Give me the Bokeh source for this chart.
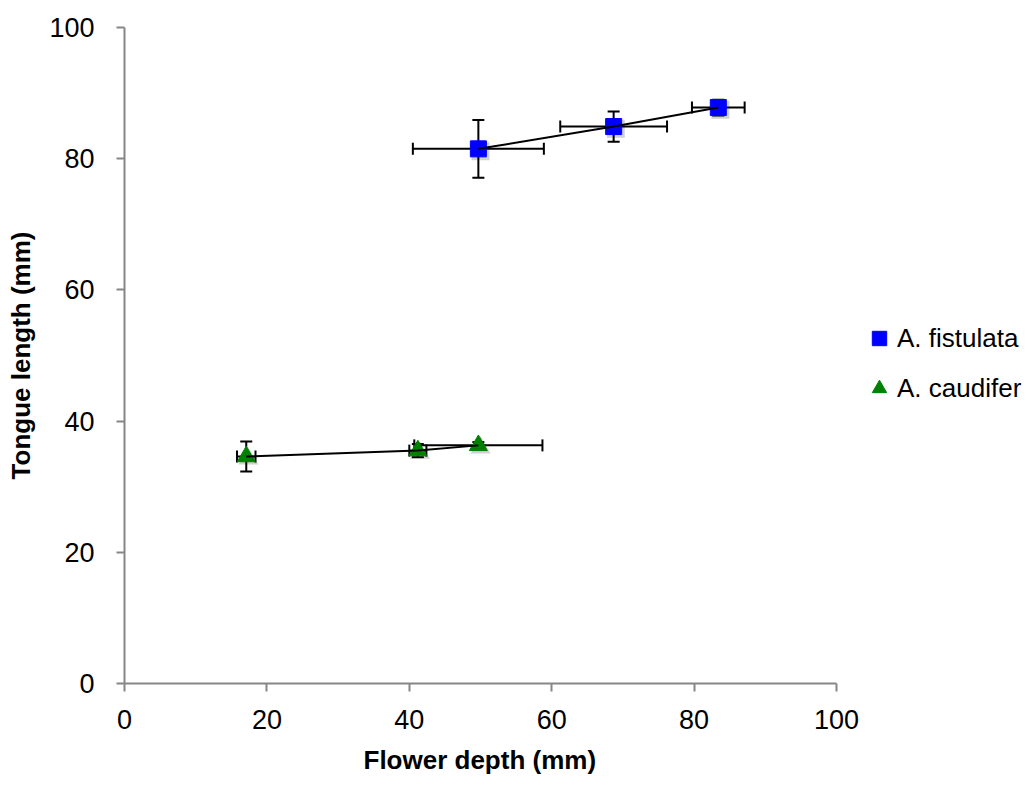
from bokeh.plotting import figure
from bokeh.models import ColumnDataSource, Whisker, TeeHead, Legend, LegendItem, FixedTicker, Range1d, Title
from bokeh.embed import file_html
from bokeh.resources import INLINE

# Data
species = ["A. fistulata", "A. caudifer"]
fist_x = [49.7, 68.7, 83.4]
fist_y = [81.5, 84.9, 87.8]
fist_xerr = [9.2, 7.5, 3.7]
fist_yerr = [4.4, 2.3, 1.2]
caud_x = [17.1, 41.2, 49.7]
caud_y = [34.6, 35.5, 36.3]
caud_xerr = [1.3, 1.2, 9.0]
caud_yerr = [2.3, 1.0, 0.5]
x_ticks = [0, 20, 40, 60, 80, 100]
y_ticks = [0, 20, 40, 60, 80, 100]

FONT = "Liberation Sans"
AXIS_GREY = "#868686"

W, H = 1026, 785
LEFT, TOP, BOTTOM = 124, 27, 102
AXIS_PX = 712  # pixel length of 0..100 on the x axis
frame_w = W - LEFT
x_end = 100.0 * frame_w / AXIS_PX

p = figure(width=W, height=H, output_backend="svg", toolbar_location=None,
           x_range=Range1d(0, x_end), y_range=Range1d(0, 100),
           min_border_left=LEFT, min_border_right=0, min_border_top=TOP, min_border_bottom=BOTTOM)
p.outline_line_color = None
p.xgrid.grid_line_color = None
p.ygrid.grid_line_color = None
p.background_fill_color = "white"
p.border_fill_color = "white"

for ax in (p.xaxis[0], p.yaxis[0]):
    ax.axis_line_color = AXIS_GREY
    ax.axis_line_width = 2
    ax.major_tick_line_color = AXIS_GREY
    ax.major_tick_line_width = 2
    ax.major_tick_out = 8
    ax.major_tick_in = 0
    ax.minor_tick_line_color = None
    ax.major_label_text_font = FONT
    ax.major_label_text_font_size = "27px"
    ax.major_label_text_color = "black"
    ax.axis_label_text_font = FONT
    ax.axis_label_text_font_size = "26px"
    ax.axis_label_text_font_style = "bold"
    ax.axis_label_text_color = "black"

p.xaxis.bounds = (0, 100)
p.yaxis.bounds = (0, 100)
p.xaxis.ticker = FixedTicker(ticks=x_ticks)
p.yaxis.ticker = FixedTicker(ticks=y_ticks)
p.yaxis.axis_label = "Tongue length (mm)"
p.xaxis.major_label_standoff = 18
p.yaxis.major_label_standoff = 22
p.yaxis.axis_label_standoff = 10

# x-axis title centred under the 0..100 span
xlabel = Title(text="Flower depth (mm)", align="left", offset=239, standoff=22,
               text_font=FONT, text_font_size="26px", text_font_style="bold",
               text_color="black")
p.add_layout(xlabel, "below")

def add_series(xs, ys, xerr, yerr, marker, color, size):
    src = ColumnDataSource(dict(
        x=xs, y=ys,
        xl=[a - e for a, e in zip(xs, xerr)], xu=[a + e for a, e in zip(xs, xerr)],
        yl=[a - e for a, e in zip(ys, yerr)], yu=[a + e for a, e in zip(ys, yerr)],
        sx=[a + 0.3 for a in xs], sy=[a - 0.35 for a in ys],
    ))
    wy = Whisker(source=src, base="x", lower="yl", upper="yu", dimension="height",
                 line_color="black", line_width=2,
                 lower_head=TeeHead(size=12, line_color="black", line_width=2),
                 upper_head=TeeHead(size=12, line_color="black", line_width=2))
    wx = Whisker(source=src, base="y", lower="xl", upper="xu", dimension="width",
                 line_color="black", line_width=2,
                 lower_head=TeeHead(size=12, line_color="black", line_width=2),
                 upper_head=TeeHead(size=12, line_color="black", line_width=2))
    p.add_layout(wy)
    p.add_layout(wx)
    p.scatter("sx", "sy", source=src, marker=marker, size=size + 2,
              fill_color="#000000", fill_alpha=0.18, line_color=None)
    r = p.scatter("x", "y", source=src, marker=marker, size=size,
                  fill_color=color, line_color=color)
    p.line("x", "y", source=src, line_color="black", line_width=2)
    return r

r1 = add_series(fist_x, fist_y, fist_xerr, fist_yerr, "square", "#0000FF", 16)
r2 = add_series(caud_x, caud_y, caud_xerr, caud_yerr, "triangle", "#008000", 18)

legend = Legend(items=[LegendItem(label=species[0], renderers=[r1]),
                       LegendItem(label=species[1], renderers=[r2])],
                location=(737, 275), orientation="vertical")
legend.border_line_color = None
legend.background_fill_alpha = 0
legend.label_text_font = FONT
legend.label_text_font_size = "26px"
legend.label_text_color = "black"
legend.glyph_width = 36
legend.glyph_height = 40
legend.label_height = 40
legend.spacing = 10
legend.label_standoff = 0
legend.padding = 0
legend.margin = 0
p.add_layout(legend, "center")

open("out.html", "w").write(file_html(p, INLINE))
